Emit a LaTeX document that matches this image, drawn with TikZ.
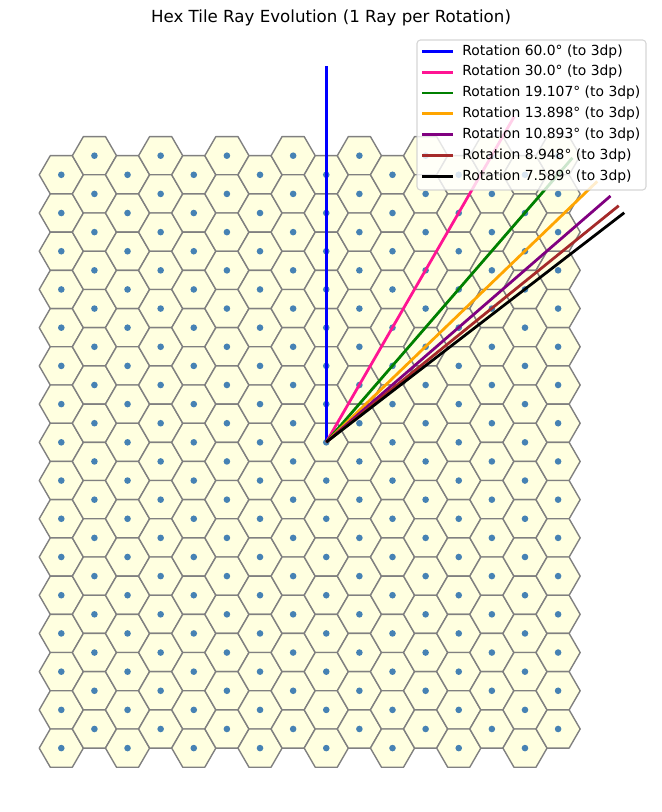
\documentclass[tikz,border=0pt]{standalone}
\usepackage{fontspec}
\setmainfont{DejaVu Sans}
\usetikzlibrary{calc}
\definecolor{cellfill}{HTML}{FFFFE0}
\definecolor{celledge}{HTML}{808080}
\definecolor{centre}{HTML}{4682B4}
\definecolor{rayblue}{HTML}{0000FF}
\definecolor{raypink}{HTML}{FF1493}
\definecolor{raygreen}{HTML}{008000}
\definecolor{rayorange}{HTML}{FFA500}
\definecolor{raypurple}{HTML}{800080}
\definecolor{raybrown}{HTML}{A52A2A}
\definecolor{rayblack}{HTML}{000000}
\definecolor{frameline}{HTML}{CCCCCC}
\tikzset{
  hexcell/.style={draw=celledge, fill=cellfill, line width=1pt, line join=round},
  centredot/.style={fill=centre, draw=none},
  ray/.style={line width=2pt},
  keyline/.style={line width=2pt},
  keytext/.style={anchor=west, inner sep=0pt, font=\fontsize{10}{12}\selectfont},
  legendbox/.style={draw=frameline, fill=white, opacity=0.8, rounded corners=2.5pt, line width=0.8pt},
  titletext/.style={font=\fontsize{12}{14}\selectfont}
}

\begin{document}
\begin{tikzpicture}[x=0.72pt, y=0.72pt]
  \useasboundingbox (0,0) rectangle (662,812);

  %% Title
  \node[titletext] (title) at (331,794) {Hex Tile Ray Evolution (1 Ray per Rotation)};

  %% Hex tiling, 16 x 16 flat-topped cells
  \foreach \i in {0,...,15} {
    \foreach \j in {0,...,15} {
      \pgfmathsetmacro\cx{61.3+33.12*\i}
      \pgfmathsetmacro\cy{637.2-38.22*\j+19.11*mod(\i,2)}
      \draw[hexcell] (\cx,\cy) +(0:22.07) -- +(60:22.07) -- +(120:22.07)
        -- +(180:22.07) -- +(240:22.07) -- +(300:22.07) -- cycle;
      \fill[centredot] (\cx,\cy) circle[radius=3.3];
    }
  }

  %% Rays from the centre cell
  \coordinate (origin) at (326.3,369.9);
  \foreach \rotn/\col in {60.0/rayblue, 30.0/raypink, 19.107/raygreen, 13.898/rayorange,
                          10.893/raypurple, 8.948/raybrown, 7.589/rayblack} {
    \draw[ray, draw=\col] (origin) -- ++({30+\rotn}:376) coordinate (tip-\col);
  }

  %% Legend
  \draw[legendbox] (417,622) rectangle (646,772);
  \foreach \rotn/\col [count=\k from 0] in {60.0/rayblue, 30.0/raypink, 19.107/raygreen,
                          13.898/rayorange, 10.893/raypurple, 8.948/raybrown, 7.589/rayblack} {
    \pgfmathsetmacro\ky{760.7-20.83*\k}
    \draw[keyline, draw=\col] (422,\ky) -- (453,\ky);
    \node[keytext] (key-\col) at (462,\ky) {Rotation \rotn{}° (to 3dp)};
  }

\end{tikzpicture}
\end{document}
